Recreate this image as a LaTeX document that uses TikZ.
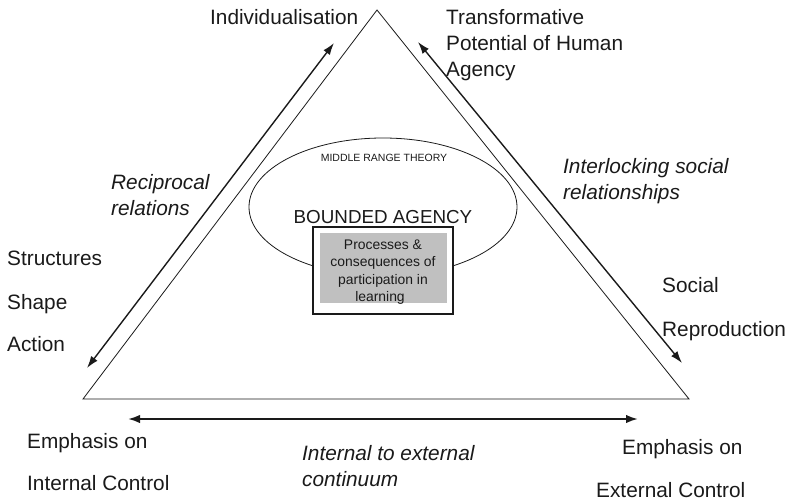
\documentclass[tikz,border=0pt]{standalone}
\usepackage{fontspec}
\setmainfont{Liberation Sans}
\usetikzlibrary{arrows.meta,shapes.geometric}
\definecolor{ink}{HTML}{1A1A1A}
\definecolor{boxgray}{HTML}{C0C0C0}
\begin{document}
\begin{tikzpicture}[x=1pt,y=-1pt,
  lbl/.style={anchor=base west,inner sep=0pt,text=ink,font=\fontsize{20.8}{25}\selectfont},
  ilbl/.style={lbl,font=\fontsize{20.8}{25}\selectfont\itshape},
  boxtxt/.style={anchor=base,inner sep=0pt,text=ink,font=\fontsize{13.9}{17}\selectfont},
  edge/.style={draw=ink,line width=0.8pt},
  twoway/.style={draw=ink,line width=1.4pt,{Latex[length=12pt,width=8pt]}-{Latex[length=12pt,width=8pt]}},
  continuum/.style={draw=ink,line width=2pt,{Latex[length=12pt,width=8.5pt]}-{Latex[length=12pt,width=8.5pt]}}]
\useasboundingbox (0,0) rectangle (788,501);

% triangle corners
\coordinate (top) at (377,10);
\coordinate (bl) at (83,399);
\coordinate (br) at (689,399);
\draw[edge] (top) -- (bl) -- (br) -- cycle;

% arrow ends
\coordinate (la1) at (334,43);
\coordinate (la2) at (87,368);
\coordinate (ra1) at (418,42);
\coordinate (ra2) at (682,363);
\coordinate (ba1) at (128,419);
\coordinate (ba2) at (638,419);
\draw[twoway] (la1) -- (la2);
\draw[twoway] (ra1) -- (ra2);
\draw[continuum] (ba1) -- (ba2);

% middle range theory ellipse and core box
\node[ellipse,draw=ink,line width=0.8pt,minimum width=268pt,minimum height=138pt,inner sep=0pt] (mrt) at (383,207) {};
\node[anchor=base,inner sep=0pt,text=ink,font=\fontsize{10.5}{12}\selectfont] (mrtlabel) at (384,161) {MIDDLE RANGE THEORY};
\node[anchor=base,inner sep=0pt,text=ink,font=\fontsize{18.8}{22}\selectfont] (ba) at (383,223) {BOUNDED AGENCY};
\node[draw=ink,fill=white,line width=1.2pt,minimum width=140pt,minimum height=87pt,inner sep=0pt] (core) at (383,270.5) {};
\node[fill=boxgray,minimum width=127pt,minimum height=70pt,inner sep=0pt] (coreshade) at (383.5,268) {};
\node[boxtxt] (p1) at (383,249) {Processes \&};
\node[boxtxt] (p2) at (383,266.5) {consequences of};
\node[boxtxt] (p3) at (383,284) {participation in};
\node[boxtxt] (p4) at (380,301.5) {learning};

% corner and side labels
\node[lbl] (indiv) at (210,24.5) {Individualisation};
\node[lbl] (tp1) at (446,24.5) {Transformative};
\node[lbl] (tp2) at (446,50.5) {Potential of Human};
\node[lbl] (tp3) at (446,76) {Agency};
\node[ilbl] (rr1) at (111,189.5) {Reciprocal};
\node[ilbl] (rr2) at (111,215.5) {relations};
\node[ilbl] (il1) at (563,173) {Interlocking social};
\node[ilbl] (il2) at (563,199.5) {relationships};
\node[lbl] (ssa1) at (7,265) {Structures};
\node[lbl] (ssa2) at (7,309) {Shape};
\node[lbl] (ssa3) at (7,351.5) {Action};
\node[lbl] (sr1) at (662,292.5) {Social};
\node[lbl] (sr2) at (662,336.5) {Reproduction};
\node[lbl] (ei1) at (27,448) {Emphasis on};
\node[lbl] (ei2) at (27,490) {Internal Control};
\node[ilbl] (ce1) at (302,460) {Internal to external};
\node[ilbl] (ce2) at (302,486) {continuum};
\node[lbl] (ee1) at (622,454.5) {Emphasis on};
\node[lbl] (ee2) at (596,497) {External Control};
\end{tikzpicture}
\end{document}
